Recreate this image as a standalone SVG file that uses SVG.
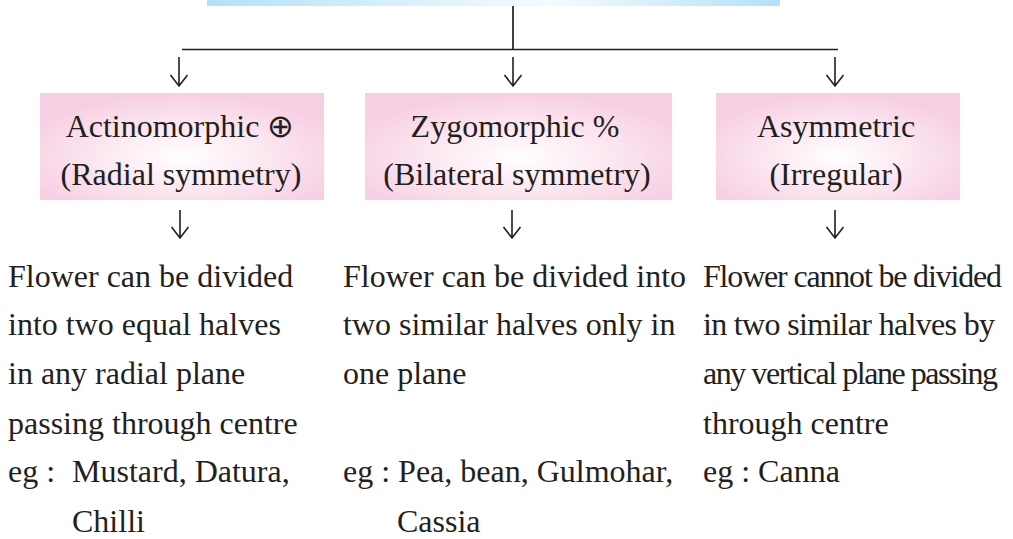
<svg xmlns="http://www.w3.org/2000/svg" width="1013" height="539" viewBox="0 0 1013 539">
<defs>
<linearGradient id="blueG" x1="0" y1="0" x2="1" y2="0">
<stop offset="0" stop-color="#b3e1f8"/>
<stop offset="0.6" stop-color="#f5fbfe"/>
<stop offset="1" stop-color="#b3e1f8"/>
</linearGradient>
<radialGradient id="pinkG" cx="0.5" cy="0.6" r="0.6">
<stop offset="0" stop-color="#ffffff"/>
<stop offset="1" stop-color="#f7cfe2"/>
</radialGradient>
</defs>
<style>
text{font-family:"Liberation Serif","Times New Roman",serif;font-size:32px;fill:#231f20}
.c{text-anchor:middle}
.ln{stroke:#231f20;stroke-width:1.7;fill:none}
.ar{stroke:#231f20;stroke-width:1.6;fill:none}
</style>
<g id="top">
<rect x="207" y="0" width="573" height="6" fill="url(#blueG)"/>
</g>
<g id="connectors">
<path class="ln" d="M513,6 V49.5 M182,49.5 H838"/>
<path class="ar" d="M179,57 V86 M170.5,75 L179,86 L187.5,75"/>
<path class="ar" d="M513,57 V86 M504.5,75 L513,86 L521.5,75"/>
<path class="ar" d="M835,57 V86 M826.5,75 L835,86 L843.5,75"/>
<path class="ar" d="M180,210 V238 M171.5,227 L180,238 L188.5,227"/>
<path class="ar" d="M512,210 V238 M503.5,227 L512,238 L520.5,227"/>
<path class="ar" d="M835,210 V238 M826.5,227 L835,238 L843.5,227"/>
</g>
<g id="actino">
<rect x="40" y="93" width="284" height="107" fill="url(#pinkG)"/>
<text class="c" x="180" y="137">Actinomorphic ⊕</text>
<text class="c" x="181" y="185">(Radial symmetry)</text>
</g>
<g id="zygo">
<rect x="365" y="93" width="307" height="107" fill="url(#pinkG)"/>
<text class="c" x="515" y="137">Zygomorphic %</text>
<text class="c" x="517" y="185">(Bilateral symmetry)</text>
</g>
<g id="asym">
<rect x="716" y="93" width="244" height="107" fill="url(#pinkG)"/>
<text class="c" x="836" y="137">Asymmetric</text>
<text class="c" x="836" y="185">(Irregular)</text>
</g>
<g id="desc1">
<text x="8" y="287">Flower can be divided</text>
<text x="8" y="335">into two equal halves</text>
<text x="8" y="384">in any radial plane</text>
<text x="8" y="434">passing through centre</text>
<text x="8" y="482">eg :<tspan x="72">Mustard, Datura,</tspan></text>
<text x="72" y="532">Chilli</text>
</g>
<g id="desc2">
<text x="343" y="287">Flower can be divided into</text>
<text x="343" y="335">two similar halves only in</text>
<text x="343" y="384">one plane</text>
<text x="343" y="482">eg : Pea, bean, Gulmohar,</text>
<text x="397" y="532">Cassia</text>
</g>
<g id="desc3">
<text x="703" y="287" textLength="299" lengthAdjust="spacing">Flower cannot be divided</text>
<text x="703" y="335" textLength="292" lengthAdjust="spacing">in two similar halves by</text>
<text x="703" y="384" textLength="295" lengthAdjust="spacing">any vertical plane passing</text>
<text x="703" y="434">through centre</text>
<text x="703" y="482">eg : Canna</text>
</g>
</svg>
